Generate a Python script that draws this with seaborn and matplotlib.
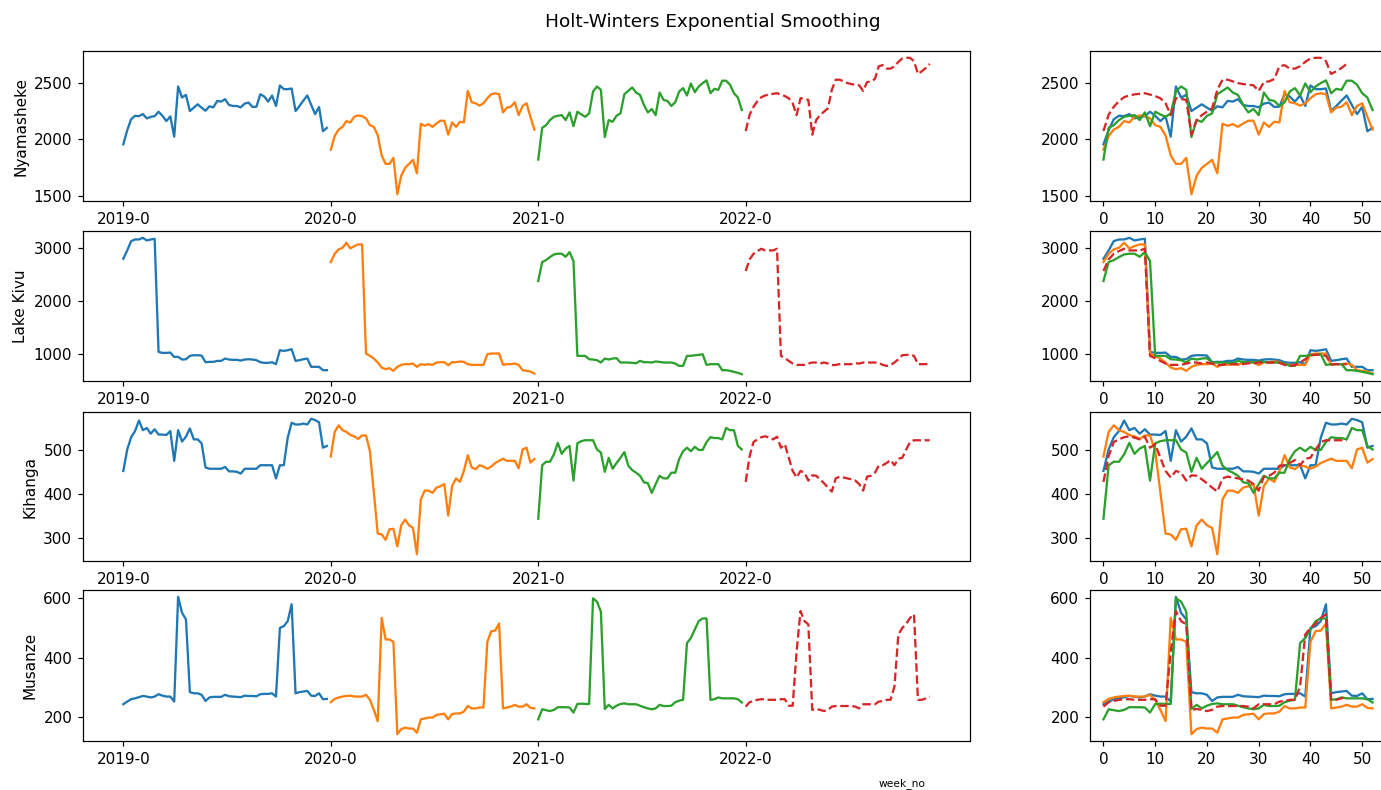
import numpy as np
import pandas as pd
import matplotlib
matplotlib.use("Agg")
import matplotlib.pyplot as plt
import seaborn as sns

# ---------------- data ----------------
regions = ["Nyamasheke", "Lake Kivu", "Kihanga", "Musanze"]
year_tick_labels = ["2019-0", "2020-0", "2021-0", "2022-0"]
weeks_per_year = 53

nyam_2019 = [1957,2082,2180,2210,2207,2225,2187,2200,2207,2246,2210,2163,2205,2025,2470,2372,2395,2252,2282,2312,
             2282,2255,2294,2285,2342,2336,2357,2306,2297,2297,2285,2318,2327,2288,2291,2401,2381,2336,2390,2297,
             2479,2446,2446,2452,2252,2297,2345,2390,2306,2225,2288,2073,2103]
nyam_2020 = [1909,2031,2088,2112,2163,2151,2201,2213,2207,2187,2127,2112,2037,1858,1784,1784,1837,1515,1679,1748,
             1784,1819,1700,2139,2121,2136,2112,2142,2166,2166,2043,2151,2112,2157,2151,2431,2330,2321,2300,2321,
             2366,2401,2410,2401,2240,2282,2291,2330,2216,2297,2321,2201,2088]
nyam_2021 = [1822,2103,2127,2172,2201,2210,2216,2172,2240,2118,2246,2222,2201,2231,2425,2470,2440,2022,2172,2157,
             2210,2231,2401,2431,2461,2416,2395,2306,2240,2270,2216,2416,2351,2342,2297,2330,2425,2455,2390,2497,
             2419,2470,2500,2524,2410,2449,2440,2521,2521,2485,2410,2372,2261]
nyam_2022_fc = [2075,2220,2290,2340,2375,2390,2400,2405,2410,2398,2385,2365,2321,2216,2366,2360,2351,2043,2172,2216,
                2246,2276,2440,2530,2530,2515,2500,2491,2485,2480,2430,2509,2515,2536,2649,2659,2628,2628,2649,2688,
                2718,2724,2724,2694,2581,2605,2634,2670]

kivu_2019 = [2794,2950,3125,3156,3156,3187,3137,3156,3169,1044,1025,1025,1031,950,950,900,906,969,981,981,
             975,850,856,856,875,875,919,900,894,894,881,900,906,900,888,850,838,838,850,813,
             1075,1063,1075,1094,875,888,906,919,763,763,763,700,700]
kivu_2020 = [2731,2888,2969,3000,3094,2988,3031,3063,3063,1013,969,919,844,750,719,738,688,763,800,813,
             813,825,763,813,800,813,800,844,850,850,794,850,850,863,856,813,800,800,800,800,
             1000,1013,1013,1013,800,813,813,825,800,700,688,675,638]
kivu_2021 = [2375,2731,2769,2825,2875,2888,2888,2831,2919,2750,969,969,969,906,900,888,844,919,900,919,
             925,844,844,844,838,831,875,850,850,844,863,856,844,844,844,825,781,781,969,969,
             981,988,1000,800,813,813,813,700,700,688,669,650,625]
kivu_2022_fc = [2563,2781,2888,2938,2981,2950,2950,2950,2981,969,925,875,825,800,800,800,825,844,844,825,
                844,825,794,800,813,813,813,813,831,825,844,844,844,844,838,800,781,794,844,906,
                981,988,988,969,813,813,813,813]

kih_2019 = [453,502,530,544,568,546,551,538,548,536,536,535,544,476,546,520,531,550,525,525,
            516,461,458,458,458,458,462,452,452,451,447,458,458,458,458,466,466,466,466,436,
            466,466,529,563,559,559,561,559,572,569,564,506,510]
kih_2020 = [486,542,557,546,542,535,532,526,534,534,498,404,310,308,296,320,321,281,329,342,
            329,323,263,388,408,408,403,415,418,423,351,419,436,428,453,489,461,457,466,463,
            458,463,471,476,481,476,476,476,459,502,506,472,480]
kih_2021 = [344,466,474,474,491,517,492,504,510,431,516,521,523,523,523,502,495,451,483,458,
            471,483,496,465,455,449,442,427,425,403,423,442,436,436,449,449,480,498,506,498,
            508,501,501,519,530,528,528,525,551,546,546,510,502]
kih_2022_fc = [428,487,519,525,530,532,529,525,531,506,514,483,453,438,453,449,431,443,442,434,
               425,415,406,436,440,438,436,434,431,423,408,440,442,449,465,466,471,478,466,481,
               483,502,519,523,523,523,523,523]

mus_2019 = [242,251,259,262,266,270,268,265,268,276,271,268,268,251,605,551,529,283,279,279,
            274,253,265,267,267,267,274,269,268,267,266,271,270,270,269,276,277,277,279,268,
            500,506,523,580,279,283,285,287,271,270,279,259,260]
mus_2020 = [249,260,265,268,270,271,268,268,268,274,257,223,185,534,461,461,453,141,158,163,
            160,160,146,191,194,197,197,206,208,210,191,209,211,211,217,236,228,228,231,231,
            453,489,491,515,228,231,234,240,234,234,242,230,228]
mus_2021 = [191,225,222,219,223,232,232,232,231,214,243,244,243,243,600,589,555,226,240,228,
            237,243,245,242,242,242,237,232,228,225,228,240,236,236,237,249,254,257,449,466,
            495,523,532,532,257,259,265,262,262,262,262,259,248]
mus_2022_fc = [234,249,253,257,259,259,257,257,257,259,259,237,237,420,557,523,512,223,226,223,
               219,223,234,236,236,236,236,236,234,228,242,242,242,242,251,253,257,257,302,478,
               500,514,534,546,257,257,262,268]

series_by_region = {
    "Nyamasheke": [nyam_2019, nyam_2020, nyam_2021, nyam_2022_fc],
    "Lake Kivu": [kivu_2019, kivu_2020, kivu_2021, kivu_2022_fc],
    "Kihanga": [kih_2019, kih_2020, kih_2021, kih_2022_fc],
    "Musanze": [mus_2019, mus_2020, mus_2021, mus_2022_fc],
}

colors = ["tab:blue", "tab:orange", "tab:green", "tab:red"]
styles = ["-", "-", "-", "--"]

# ---------------- style (reference rendered ~1.1x default scale) ----------------
s = 1.1
plt.rcParams.update({
    "font.size": 10 * s,
    "axes.linewidth": 0.8 * s,
    "xtick.major.size": 3.5 * s,
    "ytick.major.size": 3.5 * s,
    "xtick.major.width": 0.8 * s,
    "ytick.major.width": 0.8 * s,
    "xtick.major.pad": 3.5 * s,
    "ytick.major.pad": 3.5 * s,
    "lines.dashed_pattern": (3.7, 1.6),
})

# ---------------- figure ----------------
W, H = 1381, 790
fig = plt.figure(figsize=(W / 100, H / 100), dpi=100)

rows_px = [(51, 201), (231, 381), (412, 561), (590, 741)]
left_x0, left_x1 = 83, 970
right_x0, right_w = 1090, 296

for r, region in enumerate(regions):
    top, bot = rows_px[r]
    axL = fig.add_axes([left_x0 / W, 1 - bot / H, (left_x1 - left_x0) / W, (bot - top) / H])
    axR = fig.add_axes([right_x0 / W, 1 - bot / H, right_w / W, (bot - top) / H])
    for i, vals in enumerate(series_by_region[region]):
        weeks = np.arange(len(vals))
        df = pd.DataFrame({"t": weeks + i * weeks_per_year, "week_no": weeks, "v": vals})
        sns.lineplot(data=df, x="t", y="v", ax=axL, color=colors[i], linestyle=styles[i],
                     linewidth=1.5 * s, legend=False)
        sns.lineplot(data=df, x="week_no", y="v", ax=axR, color=colors[i], linestyle=styles[i],
                     linewidth=1.5 * s, legend=False)
    axL.set_xticks([i * weeks_per_year for i in range(len(year_tick_labels))])
    axL.set_xticklabels(year_tick_labels)
    axL.set_xlabel("")
    axL.set_ylabel(region)
    axR.set_xlabel("")
    axR.set_ylabel("")
    axR.set_xticks([0, 10, 20, 30, 40, 50])

fig.text(713 / W, 1 - 22 / H, "Holt-Winters Exponential Smoothing", ha="center", va="center",
         fontsize=13.3)
fig.text(902 / W, 1 / H, "week_no", ha="center", va="bottom", fontsize=7.7)

fig.savefig("out.png", dpi=100)
